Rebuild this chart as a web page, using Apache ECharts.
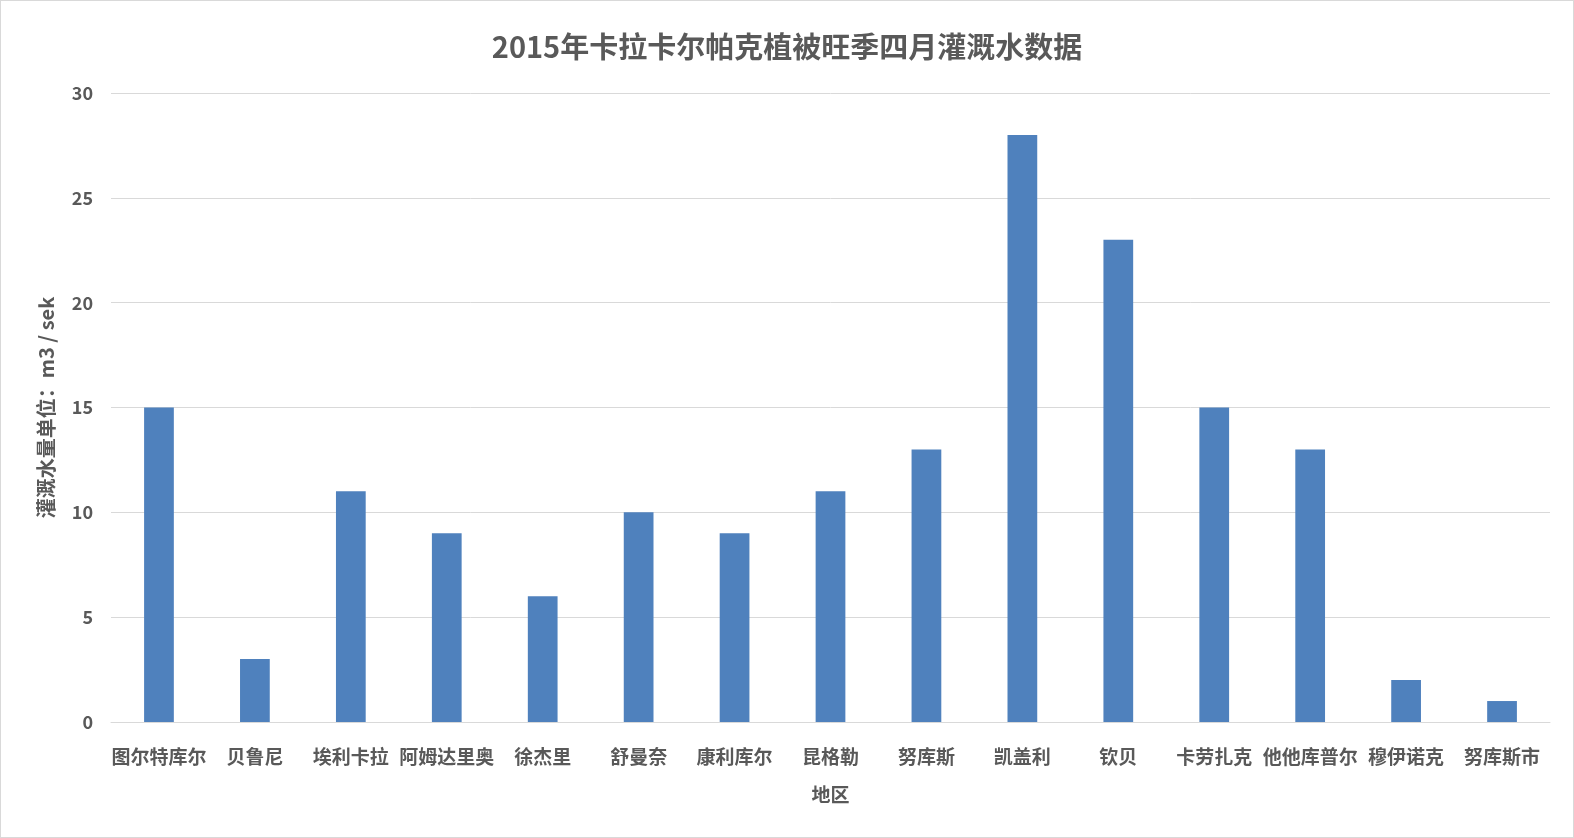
<!DOCTYPE html>
<html>
<head>
<meta charset="utf-8">
<script src="https://cdn.jsdelivr.net/npm/echarts@6/dist/echarts.min.js"></script>
<style>
html, body { margin: 0; padding: 0; background: #fff; }
#container { width: 1572px; height: 836px; border: 1px solid #d9d9d9; }
</style>
</head>
<body>
<div id="container"></div>
<script>
var regions = ['图尔特库尔', '贝鲁尼', '埃利卡拉', '阿姆达里奥', '徐杰里', '舒曼奈', '康利库尔', '昆格勒', '努库斯', '凯盖利', '钦贝', '卡劳扎克', '他他库普尔', '穆伊诺克', '努库斯市'];
var waterValues = [15, 3, 11, 9, 6, 10, 9, 11, 13, 28, 23, 15, 13, 2, 1];

var font = '"Noto Sans CJK SC", "Noto Sans", sans-serif';
var textColor = '#595959';

var myChart = echarts.init(document.getElementById('container'));
var option = {
    animation: false,
    title: {
        text: '2015年卡拉卡尔帕克植被旺季四月灌溉水数据',
        left: 'center',
        top: 26,
        textStyle: { fontFamily: font, fontSize: 29, fontWeight: 'bold', color: textColor }
    },
    grid: { left: 110, right: 23, top: 92, bottom: 115, containLabel: false },
    xAxis: {
        type: 'category',
        data: regions,
        name: '地区',
        nameLocation: 'middle',
        nameGap: 63,
        nameTextStyle: { fontFamily: font, fontSize: 19, fontWeight: 'bold', color: textColor },
        axisTick: { show: false },
        axisLine: { lineStyle: { color: '#d9d9d9', width: 1 } },
        axisLabel: { interval: 0, margin: 25, fontFamily: font, fontSize: 19, fontWeight: 'bold', color: textColor }
    },
    yAxis: {
        type: 'value',
        min: 0,
        max: 30,
        interval: 5,
        name: '灌溉水量单位：m3 / sek',
        nameLocation: 'middle',
        nameGap: 55,
        nameTextStyle: { fontFamily: font, fontSize: 20, fontWeight: 'bold', color: textColor },
        axisLine: { show: false },
        axisTick: { show: false },
        axisLabel: { margin: 18, fontFamily: font, fontSize: 18, fontWeight: 'bold', color: textColor },
        splitLine: { lineStyle: { color: '#d9d9d9', width: 1 } }
    },
    series: [{
        type: 'bar',
        data: waterValues,
        barWidth: '31%',
        itemStyle: { color: '#4f81bd' }
    }]
};
myChart.setOption(option);
</script>
</body>
</html>
